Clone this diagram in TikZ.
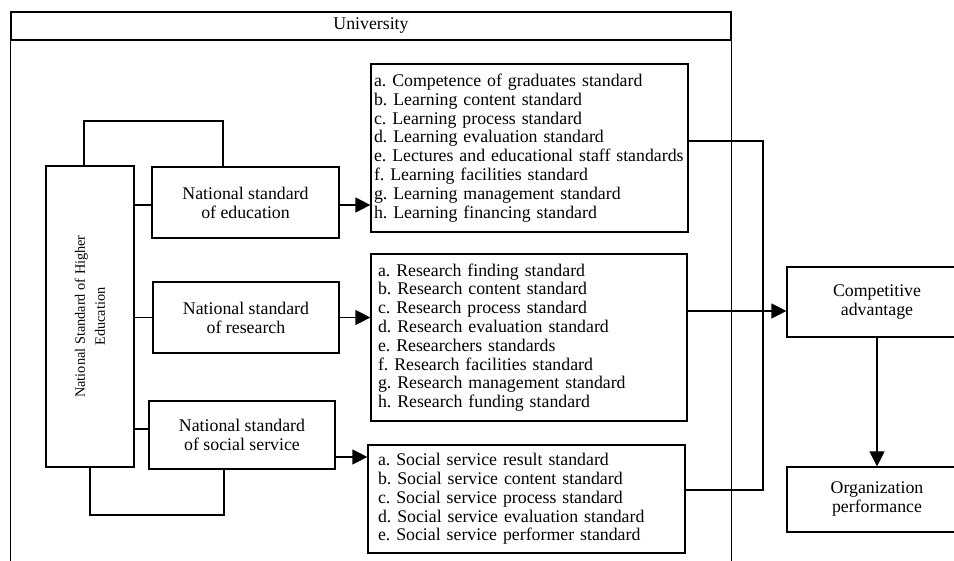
\documentclass[tikz,border=0pt]{standalone}
\usepackage{fontspec}
\setmainfont{Liberation Serif}
\usetikzlibrary{arrows.meta}
\begin{document}
\frenchspacing
\hyphenpenalty=10000
\begin{tikzpicture}[x=1pt,y=-1pt, line width=1.2pt,
  box/.style={draw, align=center, inner sep=0pt, font=\fontsize{17.8}{19}\selectfont},
  listbox/.style={draw, align=left, inner ysep=0pt, font=\fontsize{17.8}{18.8}\selectfont},
  arr/.style={-{Triangle[length=15pt,width=15pt]}}]
\useasboundingbox (0,0) rectangle (954,561);
\clip (0,0) rectangle (954,561);
% University frame
\node[box, minimum width=720pt, minimum height=28pt] (uni) at (371,26) {University};
\coordinate (ubot) at (0,563);
\draw (uni.south west) -- (uni.south west |- ubot);
\draw (uni.south east) -- (uni.south east |- ubot);
% main boxes
\node[box, minimum width=88pt, minimum height=301pt] (nshe) at (90,316.5) {};
\node[rotate=90, align=center, inner sep=0pt, font=\fontsize{14.3}{20}\selectfont] (nshetext) at (nshe.center) {National Standard of Higher\\Education};
\node[box, minimum width=187pt, minimum height=71pt] (edu) at (245.5,202.5) {National standard\\of education};
\node[box, minimum width=186pt, minimum height=71pt] (res) at (246,317.5) {National standard\\of research};
\node[box, minimum width=186pt, minimum height=68pt] (soc) at (242,435) {National standard\\of social service};
% list boxes
\node[listbox, inner xsep=3pt, text width=311pt, minimum height=168pt] (edulist) at (529.5,148) {a. Competence of graduates standard\\
b. Learning content standard\\
c. Learning process standard\\
d. Learning evaluation standard\\
e. Lectures and educational staff standards\\
f. Learning facilities standard\\
g. Learning management standard\\
h. Learning financing standard};
\node[listbox, inner xsep=7pt, text width=302pt, minimum height=167pt] (reslist) at (529,337.5) {a. Research finding standard\\
b. Research content standard\\
c. Research process standard\\
d. Research evaluation standard\\
e. Researchers standards\\
f. Research facilities standard\\
g. Research management standard\\
h. Research funding standard};
\node[listbox, inner xsep=10pt, text width=297pt, minimum height=108pt] (soclist) at (526.5,499) {a. Social service result standard\\
b. Social service content standard\\
c. Social service process standard\\
d. Social service evaluation standard\\
e. Social service performer standard};
% outcome boxes
\node[box, minimum width=180pt, minimum height=70pt] (comp) at (877,302) {Competitive\\advantage};
\node[box, minimum width=180pt, minimum height=65pt] (org) at (877,499.5) {Organization\\performance};
% helper coordinates
\coordinate (topL) at (84,121);
\coordinate (topR) at (223,121);
\coordinate (botL) at (90,515);
\coordinate (botR) at (224,515);
\coordinate (yE) at (0,205);
\coordinate (yS) at (0,429);
\coordinate (yA) at (0,457);
\coordinate (yC) at (0,311);
\coordinate (busT) at (763,141);
\coordinate (busB) at (763,490);
% connectors
\draw (nshe.north -| topL) -- (topL) -- (topR) -- (edu.north -| topR);
\draw (nshe.south -| botL) -- (botL) -- (botR) -- (soc.south -| botR);
\draw (nshe.east |- yE) -- (edu.west |- yE);
\draw (nshe.east |- res.west) -- (res.west);
\draw (nshe.east |- yS) -- (soc.west |- yS);
\draw[arr] (edu.east |- yE) -- (edulist.west |- yE);
\draw[arr] (res.east) -- (res.east -| reslist.west);
\draw[arr] (soc.east |- yA) -- (soclist.west |- yA);
\draw (edulist.east |- busT) -- (busT) -- (busB) -- (soclist.east |- busB);
\draw[arr] (reslist.east |- yC) -- (comp.west |- yC);
\draw[arr] (comp.south) -- (org.north);
\end{tikzpicture}
\end{document}
